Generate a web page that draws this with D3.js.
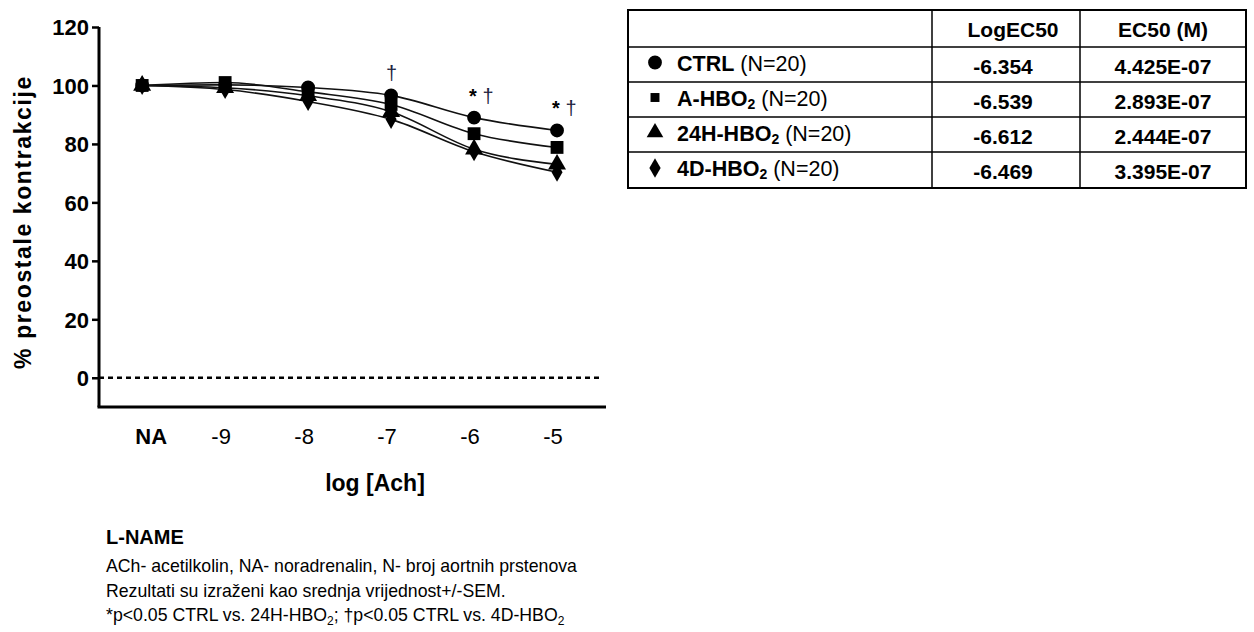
<!DOCTYPE html>
<html>
<head>
<meta charset="utf-8">
<script src="https://cdn.jsdelivr.net/npm/d3@7"></script>
<style>
  body { margin: 0; background: #fff; }
  text { font-family: "Liberation Sans", Arial, sans-serif; fill: #000; }
</style>
</head>
<body>
<div id="chart"></div>
<script>
// doses (log M), NA drawn at -10
const doses = [-10, -9, -8, -7, -6, -5];
const doseLabels = ['NA', '-9', '-8', '-7', '-6', '-5'];
const yTicks = [0, 20, 40, 60, 80, 100, 120];

// % remaining contraction
const ctrl = [100, 100.2, 99.3, 96.6, 89.0, 84.6];
const aHbo = [100, 101, 97.8, 93.5, 83.5, 78.8];
const h24Hbo = [100, 99.2, 96.5, 91, 78.2, 73];
const d4Hbo = [100, 98.6, 94.5, 88.4, 77.3, 70.3];

const groupNames = ['CTRL', 'A-HBO', '24H-HBO', '4D-HBO'];
const groupHasSub = [false, true, true, true];
const groupN = ['(N=20)', '(N=20)', '(N=20)', '(N=20)'];
const logEC50 = ['-6.354', '-6.539', '-6.612', '-6.469'];
const ec50 = ['4.425E-07', '2.893E-07', '2.444E-07', '3.395E-07'];

// significance marks above dose points
const sigDoses = [-7, -6, -5];
const sigStar = ['', '*', '*'];

const width = 1254;
const height = 632;

const svg = d3.select('#chart')
  .append('svg')
  .attr('width', width)
  .attr('height', height);

const x = d3.scaleLinear().domain([-10.52, -4.41]).range([99, 606]);
const y = d3.scaleLinear().domain([-10, 120]).range([407, 27]);

const series = [ctrl, aHbo, h24Hbo, d4Hbo];
const symbols = [d3.symbolCircle, d3.symbolSquare, d3.symbolTriangle, d3.symbolDiamond];
const symSizes = [150, 165, 140, 105];

// axes
const yAxis = svg.append('g')
  .attr('transform', `translate(${x.range()[0]},0)`)
  .call(d3.axisLeft(y).tickValues(yTicks).tickSize(7).tickSizeOuter(0).tickPadding(3));
yAxis.select('.domain').attr('stroke', '#000').attr('stroke-width', 3)
  .attr('d', `M0,${y.range()[1]}V${y.range()[0]}`);
yAxis.selectAll('.tick line').attr('stroke', '#000').attr('stroke-width', 2.5);
yAxis.selectAll('.tick text')
  .style('font-size', '22px').style('font-weight', 'bold')
  .attr('dy', '0.36em');

svg.append('line')
  .attr('x1', x.range()[0] - 1.5).attr('x2', x.range()[1])
  .attr('y1', y(-10)).attr('y2', y(-10))
  .attr('stroke', '#000').attr('stroke-width', 3);

svg.selectAll('.xlab')
  .data(doses)
  .enter()
  .append('text')
  .attr('class', 'xlab')
  .attr('x', (d, i) => x(d) + (i === 0 ? 9 : -4))
  .attr('y', 444)
  .attr('text-anchor', 'middle')
  .style('font-size', '22px')
  .style('font-weight', (d, i) => i === 0 ? 'bold' : 'normal')
  .text((d, i) => doseLabels[i]);

// zero reference line
svg.append('line')
  .attr('x1', x.range()[0]).attr('x2', x.range()[1] - 4)
  .attr('y1', y(0)).attr('y2', y(0))
  .attr('stroke', '#000').attr('stroke-width', 2.5)
  .attr('stroke-dasharray', '5,4');

// axis titles
svg.append('text')
  .attr('x', 375).attr('y', 491)
  .attr('text-anchor', 'middle')
  .style('font-size', '23px').style('font-weight', 'bold')
  .text('log [Ach]');

svg.append('text')
  .attr('transform', `translate(31,222) rotate(-90)`)
  .attr('text-anchor', 'middle')
  .style('font-size', '23px').style('font-weight', 'bold')
  .style('letter-spacing', '1.6px')
  .text('% preostale kontrakcije');

// curves
const line = d3.line()
  .x((d, i) => x(doses[i]))
  .y(d => y(d))
  .curve(d3.curveMonotoneX);

series.forEach(s => {
  svg.append('path')
    .attr('d', line(s))
    .attr('fill', 'none')
    .attr('stroke', '#111')
    .attr('stroke-width', 1.6);
});

// markers, last series drawn first so circle stays on top
series.slice().reverse().forEach((s, r) => {
  const k = series.length - 1 - r;
  svg.selectAll(`.m${k}`)
    .data(s)
    .enter()
    .append('path')
    .attr('class', `m${k}`)
    .attr('transform', (d, i) => `translate(${x(doses[i])},${y(d)})`)
    .attr('d', d3.symbol().type(symbols[k]).size(symSizes[k]))
    .attr('fill', '#000');
});

// significance marks
sigDoses.forEach((dose, i) => {
  const idx = doses.indexOf(dose);
  const top = d3.max(series, s => s[idx]);
  const t = svg.append('text')
    .attr('x', x(dose) - 5)
    .attr('y', y(top) - 15)
    .style('font-size', '20px');
  if (sigStar[i]) {
    t.append('tspan').style('font-weight', 'bold').text(sigStar[i] + ' ');
  }
  t.append('tspan').style('fill', '#1c2340').text('\u2020');
});

// footnote
const note = svg.append('g');
note.append('text')
  .attr('x', 106).attr('y', 544)
  .style('font-size', '20px').style('font-weight', 'bold')
  .text('L-NAME');
note.append('text')
  .attr('x', 106).attr('y', 572)
  .style('font-size', '17.7px')
  .text('ACh- acetilkolin, NA- noradrenalin, N- broj aortnih prstenova');
note.append('text')
  .attr('x', 106).attr('y', 597)
  .style('font-size', '17.7px')
  .text('Rezultati su izraženi kao srednja vrijednost+/-SEM.');
const n3 = note.append('text')
  .attr('x', 106).attr('y', 621)
  .style('font-size', '17.7px');
n3.append('tspan').text('*p<0.05 CTRL vs. 24H-HBO');
n3.append('tspan').attr('dy', 4).style('font-size', '12px').text('2');
n3.append('tspan').attr('dy', -4).text('; \u2020p<0.05 CTRL vs. 4D-HBO');
n3.append('tspan').attr('dy', 4).style('font-size', '12px').text('2');

// results table
const tbl = svg.append('g');
const colX = [628, 932, 1080, 1246];
const rowY = [10, 47, 82, 117, 152, 188];

tbl.append('rect')
  .attr('x', colX[0]).attr('y', rowY[0])
  .attr('width', colX[3] - colX[0]).attr('height', rowY[5] - rowY[0])
  .attr('fill', 'none').attr('stroke', '#000').attr('stroke-width', 2);
rowY.slice(1, 5).forEach(ry => {
  tbl.append('line')
    .attr('x1', colX[0]).attr('x2', colX[3])
    .attr('y1', ry).attr('y2', ry)
    .attr('stroke', '#000').attr('stroke-width', 1.5);
});
colX.slice(1, 3).forEach(cx => {
  tbl.append('line')
    .attr('x1', cx).attr('x2', cx)
    .attr('y1', rowY[0]).attr('y2', rowY[5])
    .attr('stroke', '#000').attr('stroke-width', 1.5);
});

tbl.append('text')
  .attr('x', (colX[1] + colX[2]) / 2 + 7).attr('y', 37)
  .attr('text-anchor', 'middle')
  .style('font-size', '21px').style('font-weight', 'bold')
  .text('LogEC50');
tbl.append('text')
  .attr('x', (colX[2] + colX[3]) / 2).attr('y', 37)
  .attr('text-anchor', 'middle')
  .style('font-size', '21px').style('font-weight', 'bold')
  .text('EC50 (M)');

groupNames.forEach((g, i) => {
  const cy = (rowY[i + 1] + rowY[i + 2]) / 2;
  tbl.append('path')
    .attr('transform', `translate(655,${cy - 2})`)
    .attr('d', d3.symbol().type(symbols[i]).size([150, 80, 120, 110][i]))
    .attr('fill', '#000');

  const t = tbl.append('text')
    .attr('x', 677).attr('y', cy + 6)
    .style('font-size', '21.5px');
  t.append('tspan').style('font-weight', 'bold').text(g);
  if (groupHasSub[i]) {
    t.append('tspan').attr('dy', 3).style('font-size', '14px').style('font-weight', 'bold').text('2');
    t.append('tspan').attr('dy', -3).text(' ' + groupN[i]);
  } else {
    t.append('tspan').text(' ' + groupN[i]);
  }

  tbl.append('text')
    .attr('x', (colX[1] + colX[2]) / 2 - 3).attr('y', cy + 9)
    .attr('text-anchor', 'middle')
    .style('font-size', '21px').style('font-weight', 'bold')
    .text(logEC50[i]);
  tbl.append('text')
    .attr('x', (colX[2] + colX[3]) / 2).attr('y', cy + 9)
    .attr('text-anchor', 'middle')
    .style('font-size', '21px').style('font-weight', 'bold')
    .text(ec50[i]);
});
</script>
</body>
</html>
